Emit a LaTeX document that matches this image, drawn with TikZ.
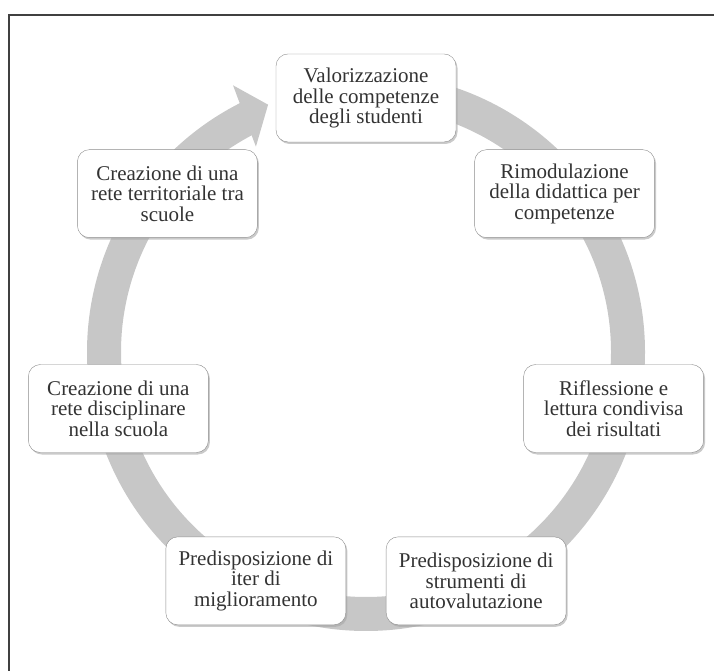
\documentclass[tikz,border=0pt]{standalone}
\usepackage{fontspec}
\setmainfont{Liberation Serif}
\usepackage{tikz}
\usetikzlibrary{shadows}
\tikzset{
        x=1pt, y=1pt, % one unit is one pixel of the picture
        every node/.style={font=\fontsize{21}{20.5}\selectfont, text=black!80}, % text of the boxes
        stepbox/.style={draw=black!45, fill=white, rounded corners=12pt,
                minimum width=180pt, minimum height=88pt, inner sep=0pt, align=center,
                drop shadow={shadow xshift=1.5pt, shadow yshift=-2pt, fill=black!35, opacity=0.6}}, % one step of the cycle
        ring/.style={draw=black!22, line width=34pt}, % the grey band behind the boxes
}
\def\ringpath{(90:262) arc[start angle=90, end angle=-243.5, radius=262]}
\def\ringtip{(116.5:298) -- (111.6:266) -- (118.2:233) -- cycle}

\begin{document}
\begin{tikzpicture}
      \useasboundingbox (0,0) rectangle (714,671);
      \draw[black!75, line width=2pt] (714,656) -- (9,656) -- (9,0);
      \begin{scope}[shift={(366,319)}]
         \draw[ring] \ringpath;
         \fill[black!22] \ringtip;
         \node[stepbox] (valor) at (90:254) {Valorizzazione\\delle competenze\\degli studenti};
         \node[stepbox] (rimod) at (38.57:254) {Rimodulazione\\della didattica per\\competenze};
         \node[stepbox] (rifl) at (-12.86:254) {Riflessione e\\lettura condivisa\\dei risultati};
         \node[stepbox] (strum) at (-64.29:254) {Predisposizione di\\strumenti di\\autovalutazione};
         \node[stepbox] (iter) at (-115.71:254) {Predisposizione di\\iter di\\miglioramento};
         \node[stepbox] (discip) at (-167.14:254) {Creazione di una\\rete disciplinare\\nella scuola};
         \node[stepbox] (territ) at (141.43:254) {Creazione di una\\rete territoriale tra\\scuole};
      \end{scope}
\end{tikzpicture}
\end{document}
